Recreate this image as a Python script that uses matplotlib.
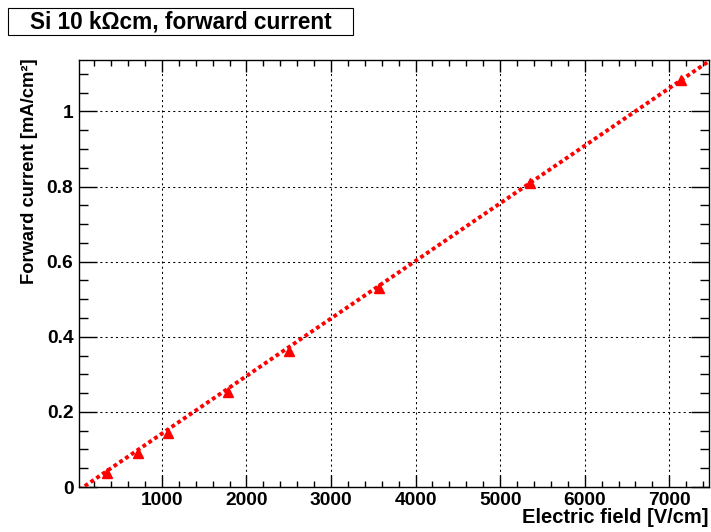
import numpy as np
import matplotlib.pyplot as plt
from matplotlib.patches import Rectangle
from matplotlib.ticker import MultipleLocator

plt.rcParams['font.family'] = ['Liberation Sans', 'DejaVu Sans']
plt.rcParams['font.weight'] = 'bold'

# measured points (field in V/cm, current density in mA/cm^2)
field = [357, 714, 1071, 1786, 2500, 3571, 5357, 7143]
current = [0.0373, 0.0905, 0.1438, 0.253, 0.362, 0.530, 0.810, 1.084]

# linear fit line at both ends
fit_x = [20, 7470]
fit_y = [-0.008, 1.134]

W, H = 711, 532
fig = plt.figure(figsize=(W / 100, H / 100), dpi=100)
ax = fig.add_axes([79 / W, 45 / H, 630 / W, 427 / H])

ax.plot(fit_x, fit_y, color='red', lw=2.8, ls=(0, (1, 0.8)), zorder=3)
ax.plot(field, current, ls='none', marker='^', ms=7, color='red', zorder=4)

ax.set_xlim(20, 7470)
ax.set_ylim(0, 1.137)
ax.xaxis.set_major_locator(MultipleLocator(1000))
ax.xaxis.set_minor_locator(MultipleLocator(200))
ax.yaxis.set_major_locator(MultipleLocator(0.2))
ax.yaxis.set_minor_locator(MultipleLocator(0.05))
ax.yaxis.set_major_formatter(plt.FuncFormatter(lambda v, p: '%g' % round(v, 2)))

ax.grid(True, which='major', color='black', lw=0.75, ls=(0, (2, 3)))
ax.tick_params(which='both', direction='in', top=True, right=True, labelsize=13.8, width=1)
ax.tick_params(axis='x', which='major', length=8.6, pad=3.5)
ax.tick_params(axis='x', which='minor', length=4.3)
ax.tick_params(axis='y', which='major', length=13, pad=4)
ax.tick_params(axis='y', which='minor', length=6.5)
for lab in ax.get_xticklabels() + ax.get_yticklabels():
    lab.set_fontweight('bold')
for s in ax.spines.values():
    s.set_linewidth(1)

fig.text(709 / W, 1 - 523 / H, 'Electric field [V/cm]', ha='right', va='baseline',
         fontsize=14.5, fontweight='bold')
fig.text(30 / W, 1 - 58 / H, 'Forward current [mA/cm²]', rotation=90, ha='center', va='top',
         fontsize=13.2, fontweight='bold')

# title box
fig.patches.append(Rectangle((8 / W, 1 - 35 / H), 345 / W, 27 / H, transform=fig.transFigure,
                             facecolor='white', edgecolor='black', lw=0.8))
fig.text(180.5 / W, 1 - 21.5 / H, 'Si 10 kΩcm, forward current', ha='center', va='center',
         fontsize=16.3, fontweight='bold')

fig.savefig('out.png', dpi=100)
